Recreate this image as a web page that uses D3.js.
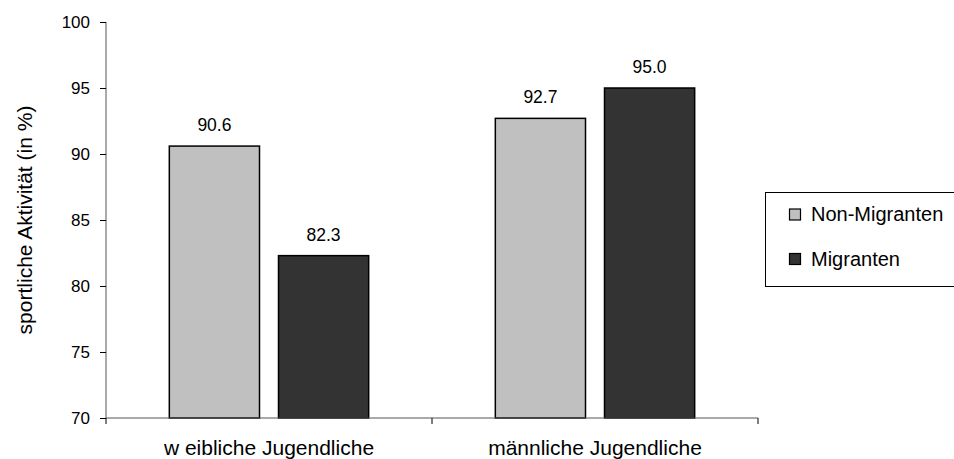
<!DOCTYPE html>
<html><head><meta charset="utf-8">
<script src="https://cdn.jsdelivr.net/npm/d3@7"></script>
<style>body{margin:0;background:#fff}svg{display:block}text{font-family:"Liberation Sans",Arial,sans-serif;fill:#000}</style>
</head><body><svg id="c" width="954" height="459"></svg>
<script>
const categories = ["w eibliche Jugendliche", "männliche Jugendliche"];
const seriesNames = ["Non-Migranten", "Migranten"];
const nonMigranten = [90.6, 92.7];
const migranten = [82.3, 95.0];
const yTicks = [70, 75, 80, 85, 90, 95, 100];
const colors = ["#c0c0c0", "#333333"];
const yLabel = "sportliche Aktivität (in %)";

(function () {
const svg = d3.select("#c");
const mLeft = 106, mRight = 758, mTop = 22, mBottom = 418;
const x = d3.scaleBand().domain(categories).range([mLeft, mRight]).paddingInner(0).paddingOuter(0);
const xs = d3.scaleBand().domain(seriesNames).range([0, x.bandwidth()]).paddingInner(0.174).paddingOuter(0.58);
const y = d3.scaleLinear().domain([70, 100]).range([mBottom, mTop]);
const series = [nonMigranten, migranten];

const g = svg.append("g");
categories.forEach((c, ci) => {
  seriesNames.forEach((s, si) => {
    const v = series[si][ci];
    const bx = x(c) + xs(s);
    g.append("rect").attr("x", bx).attr("y", y(v)).attr("width", xs.bandwidth()).attr("height", y(70) - y(v))
      .attr("fill", colors[si]).attr("stroke", "#000").attr("stroke-width", 1.5);
    g.append("text").attr("x", bx + xs.bandwidth() / 2).attr("y", y(v) - 15).attr("text-anchor", "middle")
      .attr("font-size", 17.5).text(v.toFixed(1));
  });
});

// y axis
const ya = svg.append("g").attr("transform", `translate(${mLeft},0)`)
  .call(d3.axisLeft(y).tickValues(yTicks).tickSize(6).tickPadding(10).tickFormat(d3.format("d")));
ya.select(".domain").attr("stroke", "#555").attr("d", `M-0,${mTop}V${mBottom}`);
ya.selectAll(".tick line").attr("stroke", "#000");
ya.selectAll(".tick text").attr("font-size", 17).attr("font-family", "Liberation Sans, Arial, sans-serif").style("fill", "#000");

// x axis
const xa = svg.append("g").attr("transform", `translate(0,${mBottom})`);
xa.append("line").attr("x1", mLeft).attr("x2", mRight).attr("stroke", "#555");
[mLeft, ...categories.map(c => x(c) + x.bandwidth())].forEach(t => {
  xa.append("line").attr("x1", t).attr("x2", t).attr("y1", 0).attr("y2", 6).attr("stroke", "#000");
});
categories.forEach(c => {
  xa.append("text").attr("x", x(c) + x.bandwidth() / 2).attr("y", 37).attr("text-anchor", "middle")
    .attr("font-size", 21).text(c);
});

// y label
svg.append("text").attr("transform", `translate(32,${(mTop + mBottom) / 2}) rotate(-90)`)
  .attr("text-anchor", "middle").attr("font-size", 21).text(yLabel);

// legend
const lg = svg.append("g");
lg.append("rect").attr("x", 765.5).attr("y", 192.5).attr("width", 200).attr("height", 94)
  .attr("fill", "#fff").attr("stroke", "#000");
seriesNames.forEach((s, i) => {
  const yy = 214.5 + i * 44.5;
  lg.append("rect").attr("x", 789.5).attr("y", yy - 5.5).attr("width", 11).attr("height", 11)
    .attr("fill", colors[i]).attr("stroke", "#000").attr("stroke-width", 1.2);
  lg.append("text").attr("x", 811).attr("y", yy + 6.5).attr("font-size", 20).text(s);
});
})();
</script></body></html>
